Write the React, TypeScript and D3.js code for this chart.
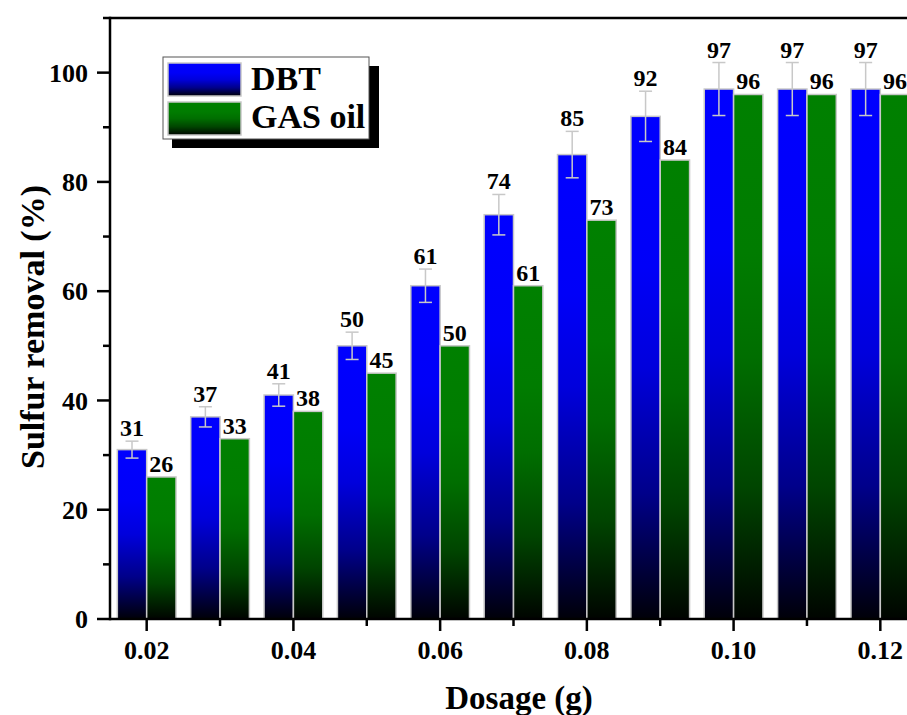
import React from "react";
import * as d3 from "d3";

// Sulfur removal versus adsorbent dosage for DBT and gas oil
const dosages = [0.02, 0.03, 0.04, 0.05, 0.06, 0.07, 0.08, 0.09, 0.1, 0.11, 0.12];
const dbtRemoval = [31, 37, 41, 50, 61, 74, 85, 92, 97, 97, 97];
const dbtError = [1.55, 1.85, 2.05, 2.5, 3.05, 3.7, 4.25, 4.6, 4.85, 4.85, 4.85];
const gasOilRemoval = [26, 33, 38, 45, 50, 61, 73, 84, 96, 96, 96];
const xMajorTicks = [0.02, 0.04, 0.06, 0.08, 0.1, 0.12];
const xMinorTicks = [0.03, 0.05, 0.07, 0.09, 0.11];
const yMajorTicks = [0, 20, 40, 60, 80, 100];
const yMinorTicks = [10, 30, 50, 70, 90, 110];
const seriesNames = ["DBT", "GAS oil"];

const W = 907;
const H = 715;
const FONT = "'Liberation Serif', 'Times New Roman', Times, serif";

export default function App() {
  const x = d3.scaleLinear().domain([0.015, 0.125]).range([110, 917]);
  const y = d3.scaleLinear().domain([0, 110]).range([619, 18]);
  const barW = x(0.004) - x(0);
  const capW = 13;

  return (
    <div style={{ position: "absolute", left: 0, top: 0, width: W, height: H, overflow: "hidden", background: "#fff" }}>
      <svg width={W} height={H} style={{ display: "block" }} fontFamily={FONT}>
        <defs>
          <linearGradient id="gBlue" x1="0" y1="0" x2="0" y2="1">
            <stop offset="0" stopColor="#0000ff" />
            <stop offset="0.3" stopColor="#0000f8" />
            <stop offset="0.5" stopColor="#0000dc" />
            <stop offset="0.75" stopColor="#00008a" />
            <stop offset="1" stopColor="#000008" />
          </linearGradient>
          <linearGradient id="gGreen" x1="0" y1="0" x2="0" y2="1">
            <stop offset="0" stopColor="#008000" />
            <stop offset="0.3" stopColor="#007c00" />
            <stop offset="0.5" stopColor="#006e00" />
            <stop offset="0.75" stopColor="#004500" />
            <stop offset="1" stopColor="#000400" />
          </linearGradient>
        </defs>

        {/* bars */}
        {dosages.map((d, i) => (
          <g key={"b" + i}>
            <rect
              x={x(d) - barW}
              y={y(dbtRemoval[i])}
              width={barW}
              height={y(0) - y(dbtRemoval[i])}
              fill="url(#gBlue)"
              stroke="#c8c8c8"
              strokeWidth={1.5}
            />
            <rect
              x={x(d)}
              y={y(gasOilRemoval[i])}
              width={barW}
              height={y(0) - y(gasOilRemoval[i])}
              fill="url(#gGreen)"
              stroke="#c8c8c8"
              strokeWidth={1.5}
            />
          </g>
        ))}

        {/* error bars on DBT */}
        {dosages.map((d, i) => {
          const cx = x(d) - barW / 2;
          const top = y(dbtRemoval[i] + dbtError[i]);
          const bot = y(dbtRemoval[i] - dbtError[i]);
          return (
            <g key={"e" + i} stroke="#c8c8c8" strokeWidth={1.5}>
              <line x1={cx} x2={cx} y1={top} y2={bot} />
              <line x1={cx - capW / 2} x2={cx + capW / 2} y1={top} y2={top} />
              <line x1={cx - capW / 2} x2={cx + capW / 2} y1={bot} y2={bot} />
            </g>
          );
        })}

        {/* value labels */}
        {dosages.map((d, i) => (
          <g key={"l" + i} fontSize={24} fontWeight="bold" textAnchor="middle" fill="#000">
            <text x={x(d) - barW / 2} y={y(dbtRemoval[i] + dbtError[i]) - 5}>
              {dbtRemoval[i]}
            </text>
            <text x={x(d) + barW / 2} y={y(gasOilRemoval[i]) - 5}>
              {gasOilRemoval[i]}
            </text>
          </g>
        ))}

        {/* frame and axes */}
        <line x1={x.range()[0]} x2={W} y1={y(110)} y2={y(110)} stroke="#000" strokeWidth={2.5} />
        <line x1={x.range()[0]} x2={x.range()[0]} y1={y(110) - 1.2} y2={y(0) + 1.2} stroke="#000" strokeWidth={2.5} />
        <line x1={x.range()[0]} x2={W} y1={y(0)} y2={y(0)} stroke="#000" strokeWidth={2.5} />

        {yMajorTicks.map((t) => (
          <g key={"ym" + t}>
            <line x1={x.range()[0] - 13} x2={x.range()[0]} y1={y(t)} y2={y(t)} stroke="#000" strokeWidth={2.5} />
            <text x={88} y={y(t)} dy="0.35em" textAnchor="end" fontSize={26} fontWeight="bold">
              {t}
            </text>
          </g>
        ))}
        {yMinorTicks.map((t) => (
          <line key={"yn" + t} x1={x.range()[0] - 7} x2={x.range()[0]} y1={y(t)} y2={y(t)} stroke="#000" strokeWidth={2.5} />
        ))}

        {xMajorTicks.map((t) => (
          <g key={"xm" + t}>
            <line x1={x(t)} x2={x(t)} y1={y(0)} y2={y(0) + 12} stroke="#000" strokeWidth={2.5} />
            <text x={x(t)} y={659} textAnchor="middle" fontSize={26} fontWeight="bold">
              {d3.format(".2f")(t)}
            </text>
          </g>
        ))}
        {xMinorTicks.map((t) => (
          <line key={"xn" + t} x1={x(t)} x2={x(t)} y1={y(0)} y2={y(0) + 7} stroke="#000" strokeWidth={2.5} />
        ))}

        {/* axis titles */}
        <text x={519} y={709} textAnchor="middle" fontSize={33} fontWeight="bold">
          Dosage (g)
        </text>
        <text
          transform={`translate(44, ${327}) rotate(-90)`}
          textAnchor="middle"
          fontSize={34}
          fontWeight="bold"
        >
          Sulfur removal (%)
        </text>

        {/* legend */}
        <g>
          <rect x={172} y={66} width={207} height={82} fill="#000" />
          <rect x={163} y={57} width={206} height={82} fill="#fff" stroke="#555" strokeWidth={1} />
          <rect x={168} y={63} width={73} height={33} fill="url(#gBlue)" stroke="#c8c8c8" strokeWidth={1.5} />
          <rect x={168} y={102} width={73} height={33} fill="url(#gGreen)" stroke="#c8c8c8" strokeWidth={1.5} />
          <text x={251} y={90} fontSize={34} fontWeight="bold">
            {seriesNames[0]}
          </text>
          <text x={251} y={128} fontSize={34} fontWeight="bold">
            {seriesNames[1]}
          </text>
        </g>
      </svg>
    </div>
  );
}
